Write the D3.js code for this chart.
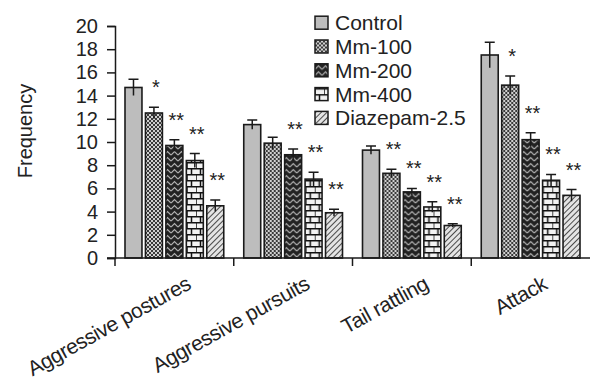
<!DOCTYPE html>
<html>
<head>
<meta charset="utf-8">
<script src="https://cdn.jsdelivr.net/npm/d3@7"></script>
<style>
  body { margin: 0; background: #fff; }
  svg { display: block; font-family: "Liberation Sans", Arial, sans-serif; }
</style>
</head>
<body>
<svg id="chart" width="590" height="385"></svg>
<script>
const categories = ["Aggressive postures", "Aggressive pursuits", "Tail rattling", "Attack"]
const groups = ["Control", "Mm-100", "Mm-200", "Mm-400", "Diazepam-2.5"]
// mean per group, in category order
const means = {
  "Control": [14.7, 11.5, 9.3, 17.5],
  "Mm-100": [12.5, 9.9, 7.3, 14.9],
  "Mm-200": [9.7, 8.9, 5.7, 10.2],
  "Mm-400": [8.4, 6.8, 4.4, 6.7],
  "Diazepam-2.5": [4.5, 3.9, 2.8, 5.4]
}
const errors = {
  "Control": [0.7, 0.4, 0.35, 1.1],
  "Mm-100": [0.5, 0.5, 0.35, 0.8],
  "Mm-200": [0.5, 0.5, 0.3, 0.6],
  "Mm-400": [0.6, 0.6, 0.45, 0.5],
  "Diazepam-2.5": [0.5, 0.3, 0.15, 0.5]
}
const stars = {
  "Control": ["", "", "", ""],
  "Mm-100": ["*", "", "**", "*"],
  "Mm-200": ["**", "**", "**", "**"],
  "Mm-400": ["**", "**", "**", "**"],
  "Diazepam-2.5": ["**", "**", "**", "**"]
}
const yTicks = [0, 2, 4, 6, 8, 10, 12, 14, 16, 18, 20]

const svg = d3.select("#chart")
const ink = "#1a1a1a"

// fills, one per group
const defs = svg.append("defs")

let p = defs.append("pattern").attr("id", "p1").attr("patternUnits", "userSpaceOnUse")
  .attr("width", 4).attr("height", 4)
p.append("rect").attr("width", 4).attr("height", 4).attr("fill", "#3a3a3a")
p.append("rect").attr("width", 2).attr("height", 2).attr("fill", "#d0d0d0")
p.append("rect").attr("x", 2).attr("y", 2).attr("width", 2).attr("height", 2).attr("fill", "#d0d0d0")

p = defs.append("pattern").attr("id", "p2").attr("patternUnits", "userSpaceOnUse")
  .attr("width", 7).attr("height", 6)
p.append("rect").attr("width", 7).attr("height", 6).attr("fill", "#222")
p.append("path").attr("d", "M0,5 L3.5,1.5 L7,5").attr("fill", "none")
  .attr("stroke", "#b0b0b0").attr("stroke-width", 1.2)

p = defs.append("pattern").attr("id", "p3").attr("patternUnits", "userSpaceOnUse")
  .attr("width", 9).attr("height", 12)
p.append("rect").attr("width", 9).attr("height", 12).attr("fill", "#f2f2f2")
p.append("path").attr("d", "M0,0.75 H9 M0,6.75 H9 M4.5,0 V6 M0,6 V12")
  .attr("stroke", "#111").attr("stroke-width", 1.5)

p = defs.append("pattern").attr("id", "p4").attr("patternUnits", "userSpaceOnUse")
  .attr("width", 4).attr("height", 4).attr("patternTransform", "rotate(45)")
p.append("rect").attr("width", 4).attr("height", 4).attr("fill", "#e4e4e4")
p.append("line").attr("x1", 0).attr("y1", 0).attr("x2", 0).attr("y2", 4)
  .attr("stroke", "#222").attr("stroke-width", 1.6)

const fills = {
  "Control": "#bdbdbd",
  "Mm-100": "url(#p1)",
  "Mm-200": "url(#p2)",
  "Mm-400": "url(#p3)",
  "Diazepam-2.5": "url(#p4)"
}

const x0 = d3.scaleBand().domain(categories).range([115, 590])
const x1 = d3.scaleBand().domain(groups).range([10, x0.bandwidth() - 10]).paddingInner(0.17)
const y = d3.scaleLinear().domain([0, 20]).range([258, 26])

// y axis
const yAxis = svg.append("g")
  .attr("transform", "translate(115,0)")
  .call(d3.axisLeft(y).tickValues(yTicks).tickSize(8).tickPadding(9))
yAxis.select(".domain").attr("stroke", ink).attr("stroke-width", 1.5)
yAxis.selectAll(".tick line").attr("stroke", ink).attr("stroke-width", 1.5)
yAxis.selectAll(".tick text").attr("font-size", 20).attr("fill", "#222")
  .attr("font-family", "'Liberation Sans', Arial, sans-serif")

svg.append("text")
  .attr("transform", "translate(32,131) rotate(-90)")
  .attr("text-anchor", "middle")
  .attr("font-size", 20)
  .attr("fill", "#222")
  .text("Frequency")

// bars
const cat = svg.selectAll(".cat")
  .data(categories)
  .join("g")
  .attr("class", "cat")
  .attr("transform", (d) => `translate(${x0(d)},0)`)

cat.each(function(c, ci) {
  const g = d3.select(this)
  const rows = groups.map((k) => ({k, v: means[k][ci], e: errors[k][ci], s: stars[k][ci]}))

  g.selectAll("rect")
    .data(rows)
    .join("rect")
    .attr("x", (d) => x1(d.k))
    .attr("y", (d) => y(d.v))
    .attr("width", x1.bandwidth())
    .attr("height", (d) => y(0) - y(d.v))
    .attr("fill", (d) => fills[d.k])
    .attr("stroke", ink)
    .attr("stroke-width", 1.6)

  const cx = (d) => x1(d.k) + x1.bandwidth() / 2
  g.selectAll(".err")
    .data(rows)
    .join("path")
    .attr("class", "err")
    .attr("fill", "none")
    .attr("stroke", ink)
    .attr("stroke-width", 1.5)
    .attr("d", (d) => {
      const a = y(d.v + d.e), b = y(d.v - d.e), m = cx(d)
      return `M${m},${b} V${a} M${m - 5},${a} H${m + 5}`
    })

  g.selectAll(".star")
    .data(rows.filter((d) => d.s))
    .join("text")
    .attr("class", "star")
    .attr("x", (d) => cx(d) + 2)
    .attr("y", (d) => y(d.v + d.e) - 13)
    .attr("text-anchor", "middle")
    .attr("font-size", 20)
    .attr("fill", "#222")
    .text((d) => d.s)
})

// x axis
const xAxis = svg.append("g")
  .attr("transform", `translate(0,${y(0)})`)
xAxis.append("line")
  .attr("x1", 107).attr("x2", 590)
  .attr("stroke", ink).attr("stroke-width", 1.5)
xAxis.selectAll(".xt")
  .data(categories)
  .join("line")
  .attr("class", "xt")
  .attr("x1", (d) => x0(d)).attr("x2", (d) => x0(d))
  .attr("y1", 0).attr("y2", 8)
  .attr("stroke", ink).attr("stroke-width", 1.5)
xAxis.selectAll(".xl")
  .data(categories)
  .join("text")
  .attr("class", "xl")
  .attr("text-anchor", "end")
  .attr("font-size", 21)
  .attr("letter-spacing", -0.4)
  .attr("fill", "#222")
  .attr("transform", (d) => `translate(${x0(d) + x0.bandwidth() / 2 + 18},30) rotate(-29)`)
  .text((d) => d)

// legend
const legend = svg.append("g")
  .selectAll("g")
  .data(groups)
  .join("g")
  .attr("transform", (d, i) => `translate(315,${22.7 + i * 23.8})`)
legend.append("rect")
  .attr("x", 0).attr("y", -6.5)
  .attr("width", 13).attr("height", 13)
  .attr("fill", (d) => fills[d])
  .attr("stroke", ink)
  .attr("stroke-width", 1.5)
legend.append("text")
  .attr("x", 20)
  .attr("dy", "0.36em")
  .attr("font-size", 21)
  .attr("fill", "#222")
  .text((d) => d)
</script>
</body>
</html>
